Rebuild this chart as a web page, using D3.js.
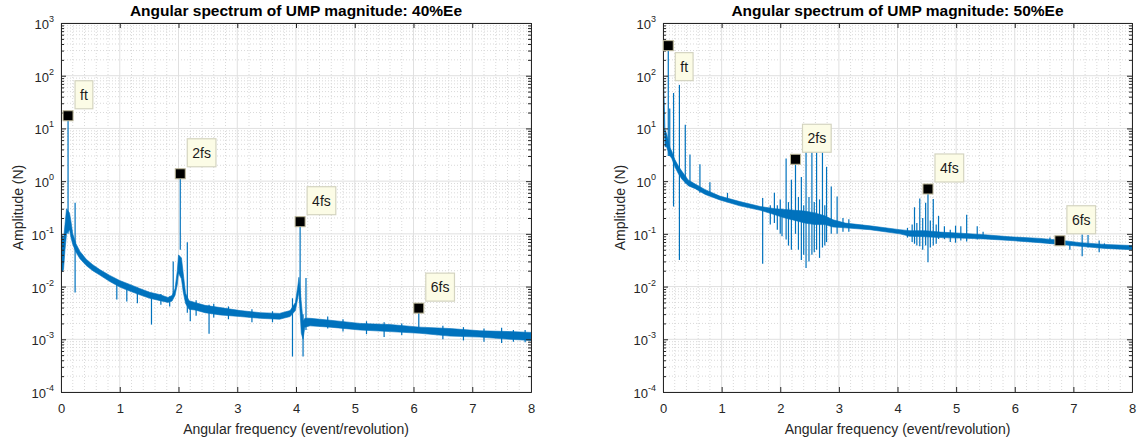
<!DOCTYPE html>
<html>
<head>
<meta charset="utf-8">
<script src="https://cdn.jsdelivr.net/npm/d3@7"></script>
<style>
  body { margin: 0; background: #fff; }
  svg text { font-family: "Liberation Sans", Arial, sans-serif; fill: #262626; }
</style>
</head>
<body>
<svg id="chart" width="1140" height="446"></svg>
<script>
// Tick values shared by both panels.
const xTickValues = [0, 1, 2, 3, 4, 5, 6, 7, 8];
const yDecades = [-4, -3, -2, -1, 0, 1, 2, 3];

// Left panel (40%Ee): noise band as [freq, low, high], spikes as [freq, low, high].
const leftTitle = 'Angular spectrum of UMP magnitude: 40%Ee';
const leftBand = [
    [0.017, 0.019, 0.095], [0.043, 0.021, 0.078], [0.068, 0.05, 0.15], [0.094, 0.1, 0.3],
    [0.145, 0.12, 0.25], [0.17, 0.085, 0.17], [0.2, 0.063, 0.1], [0.255, 0.045, 0.065],
    [0.32, 0.034, 0.047], [0.43, 0.025, 0.033], [0.54, 0.02, 0.026], [0.66, 0.0165, 0.021],
    [0.83, 0.0125, 0.0163], [1.0, 0.0098, 0.013], [1.17, 0.0082, 0.011], [1.34, 0.007, 0.0092],
    [1.51, 0.006, 0.0078], [1.69, 0.0054, 0.007], [1.82, 0.005, 0.0062], [1.89, 0.0053, 0.0068],
    [1.94, 0.0068, 0.009], [1.98, 0.011, 0.02], [2.0, 0.018, 0.04], [2.05, 0.014, 0.035],
    [2.08, 0.008, 0.018], [2.12, 0.0048, 0.0075], [2.18, 0.0037, 0.0054], [2.28, 0.0036, 0.005],
    [2.45, 0.0032, 0.0044], [2.71, 0.0029, 0.004], [3.05, 0.0027, 0.0035], [3.39, 0.0025, 0.0032],
    [3.72, 0.0024, 0.0031], [3.9, 0.0027, 0.0035], [3.99, 0.0035, 0.005], [4.03, 0.006, 0.01],
    [4.05, 0.008, 0.015], [4.09, 0.0013, 0.005], [4.12, 0.001, 0.0022], [4.15, 0.0017, 0.0025],
    [4.24, 0.0018, 0.0025], [4.58, 0.0017, 0.0023], [5.09, 0.0015, 0.002], [5.6, 0.0014, 0.0019],
    [6.11, 0.0013, 0.0017], [6.62, 0.00115, 0.0016], [7.13, 0.0011, 0.00145], [7.64, 0.001, 0.0014],
    [8.0, 0.00095, 0.00135]
];
const leftSpikes = [
    [0.0, 0.0001, 0.1], [0.12, 0.1, 17], [0.24, 0.0077, 0.39], [0.95, 0.0057, 0.013],
    [1.12, 0.0052, 0.011], [1.3, 0.0048, 0.0095], [1.54, 0.0019, 0.006], [1.7, 0.0045, 0.0072],
    [1.85, 0.0042, 0.0065], [1.91, 0.007, 0.03], [2.03, 0.05, 1.38], [2.15, 0.0032, 0.069],
    [2.2, 0.0022, 0.005], [2.3, 0.0028, 0.0055], [2.52, 0.00127, 0.0045], [2.6, 0.0026, 0.0047],
    [2.85, 0.0024, 0.0042], [3.25, 0.0021, 0.0037], [3.6, 0.0021, 0.0034], [3.94, 0.00047, 0.006],
    [4.07, 0.005, 0.17], [4.12, 0.00047, 0.003], [4.17, 0.0015, 0.0146], [4.54, 0.0016, 0.0027],
    [4.8, 0.0014, 0.0024], [5.2, 0.00125, 0.0022], [5.5, 0.0011, 0.0021], [5.8, 0.0012, 0.002],
    [6.09, 0.0016, 0.0039], [6.5, 0.001, 0.0018], [6.85, 0.00095, 0.0017], [7.2, 0.0009, 0.0016],
    [7.5, 0.00085, 0.00165], [7.7, 0.0009, 0.0015], [7.9, 0.00088, 0.0015]
];
const leftTips = [['ft', 0.12, 17.4], ['2fs', 2.03, 1.38], ['4fs', 4.07, 0.17], ['6fs', 6.09, 0.0039]];

// Right panel (50%Ee).
const rightTitle = 'Angular spectrum of UMP magnitude: 50%Ee';
const rightBand = [
    [0.005, 50, 140], [0.034, 4.5, 9.4], [0.06, 4.5, 8], [0.12, 3.0, 4.3], [0.15, 2.7, 3.7],
    [0.2, 1.9, 2.6], [0.26, 1.4, 1.95], [0.32, 1.1, 1.55], [0.43, 0.82, 1.05], [0.55, 0.72, 0.88],
    [0.72, 0.56, 0.69], [0.97, 0.44, 0.52], [1.31, 0.34, 0.41], [1.66, 0.28, 0.33], [1.91, 0.23, 0.3],
    [2.08, 0.2, 0.29], [2.25, 0.18, 0.28], [2.42, 0.16, 0.27], [2.59, 0.15, 0.25], [2.76, 0.15, 0.22],
    [2.9, 0.135, 0.185], [3.11, 0.13, 0.16], [3.53, 0.12, 0.142], [4.04, 0.1, 0.12], [4.21, 0.09, 0.115],
    [4.47, 0.088, 0.115], [4.73, 0.085, 0.108], [5.07, 0.083, 0.103], [5.49, 0.08, 0.096], [5.92, 0.075, 0.088],
    [6.43, 0.068, 0.082], [6.77, 0.063, 0.076], [7.12, 0.058, 0.068], [7.54, 0.053, 0.063], [8.0, 0.05, 0.06]
];
const rightSpikes = [
    [0.0, 0.0001, 140], [0.09, 3, 372], [0.115, 3, 24], [0.18, 0.33, 47], [0.28, 0.032, 67],
    [0.38, 0.9, 11.7], [0.46, 0.8, 3.2], [0.63, 0.6, 2.1], [0.8, 0.55, 0.95], [1.1, 0.4, 0.6],
    [1.7, 0.027, 0.48], [1.83, 0.15, 0.35], [1.9, 0.16, 0.6], [1.95, 0.12, 0.35], [2.0, 0.1, 0.45],
    [2.03, 0.09, 0.3], [2.1, 0.078, 2.7], [2.14, 0.06, 0.4], [2.19, 0.05, 1.06], [2.26, 0.1, 2.6],
    [2.31, 0.05, 0.5], [2.36, 0.032, 1.2], [2.4, 0.04, 0.35], [2.44, 0.0225, 3.65], [2.49, 0.03, 0.5],
    [2.54, 0.04, 3.65], [2.58, 0.045, 0.4], [2.62, 0.05, 3.65], [2.67, 0.035, 0.45], [2.72, 0.055, 3.65],
    [2.76, 0.06, 0.35], [2.79, 0.07, 1.87], [2.87, 0.1, 0.79], [2.97, 0.1, 0.51], [3.07, 0.11, 0.2],
    [3.17, 0.11, 0.19], [4.17, 0.085, 0.13], [4.25, 0.07, 0.15], [4.29, 0.065, 0.32], [4.33, 0.06, 0.16],
    [4.38, 0.058, 0.47], [4.43, 0.05, 0.2], [4.48, 0.06, 0.39], [4.52, 0.029, 0.71], [4.56, 0.055, 0.18],
    [4.61, 0.06, 0.46], [4.66, 0.065, 0.15], [4.7, 0.08, 0.22], [4.8, 0.08, 0.14], [4.9, 0.07, 0.12],
    [4.99, 0.068, 0.143], [5.08, 0.075, 0.14], [5.18, 0.072, 0.23], [5.36, 0.078, 0.14], [5.46, 0.08, 0.11],
    [6.6, 0.065, 0.085], [6.94, 0.05, 0.07], [7.15, 0.0375, 0.097], [7.25, 0.055, 0.095], [7.44, 0.045, 0.075],
    [7.53, 0.055, 0.066]
];
const rightTips = [['ft', 0.09, 372], ['2fs', 2.26, 2.6], ['4fs', 4.52, 0.71], ['6fs', 6.77, 0.074]];

const xLabel = 'Angular frequency (event/revolution)';
const yLabel = 'Amplitude (N)';

const lineColor = '#0072BD';
const svg = d3.select('#chart');

const drawPanel = (cfg, title, band, spikes, tips) => {
    let x = d3.scaleLinear().domain([0, 8]).range([cfg.left, cfg.right]);
    let y = d3.scaleLog().domain([1e-4, 1e3]).range([cfg.bottom, cfg.top]);
    let g = svg.append('g');

    let minorX = d3.range(0, 8.0001, 0.2).filter(v => Math.abs(v - Math.round(v)) > 0.01);
    let minorY = [];
    yDecades.slice(0, -1).forEach(d => {
        for (let k = 2; k < 10; k++) minorY.push(k * Math.pow(10, d));
    });

    // minor grid (dotted)
    g.selectAll('.mgx').data(minorX).enter().append('line')
        .attr('x1', d => x(d)).attr('x2', d => x(d))
        .attr('y1', cfg.top).attr('y2', cfg.bottom)
        .attr('stroke', '#d9d9d9').attr('stroke-dasharray', '1,2');
    g.selectAll('.mgy').data(minorY).enter().append('line')
        .attr('x1', cfg.left).attr('x2', cfg.right)
        .attr('y1', d => y(d)).attr('y2', d => y(d))
        .attr('stroke', '#d9d9d9').attr('stroke-dasharray', '1,2');

    // major grid
    g.selectAll('.gx').data(xTickValues).enter().append('line')
        .attr('x1', d => x(d)).attr('x2', d => x(d))
        .attr('y1', cfg.top).attr('y2', cfg.bottom)
        .attr('stroke', '#e0e0e0');
    g.selectAll('.gy').data(yDecades).enter().append('line')
        .attr('x1', cfg.left).attr('x2', cfg.right)
        .attr('y1', d => y(Math.pow(10, d))).attr('y2', d => y(Math.pow(10, d)))
        .attr('stroke', '#e0e0e0');

    // data
    let clipId = 'clip' + cfg.left;
    g.append('clipPath').attr('id', clipId).append('rect')
        .attr('x', cfg.left).attr('y', cfg.top)
        .attr('width', cfg.right - cfg.left).attr('height', cfg.bottom - cfg.top);
    let plot = g.append('g').attr('clip-path', 'url(#' + clipId + ')');

    let area = d3.area()
        .x(d => x(d[0]))
        .y0(d => y(d[1]))
        .y1(d => y(d[2]));
    plot.append('path').datum(band)
        .attr('d', area)
        .attr('fill', lineColor)
        .attr('stroke', lineColor)
        .attr('stroke-width', 0.6);

    plot.selectAll('.spike').data(spikes).enter().append('line')
        .attr('x1', d => x(d[0])).attr('x2', d => x(d[0]))
        .attr('y1', d => y(d[1])).attr('y2', d => y(d[2]))
        .attr('stroke', lineColor).attr('stroke-width', 1.2);

    // axes: ticks pointing inward
    let xAxis = d3.axisBottom(x).tickValues(xTickValues).tickSize(-5).tickSizeOuter(0).tickPadding(12);
    let gx = g.append('g').attr('transform', 'translate(0,' + cfg.bottom + ')').call(xAxis);
    gx.selectAll('text').attr('font-size', 13).style('fill', '#262626');
    g.append('g').attr('transform', 'translate(0,' + cfg.top + ')')
        .call(d3.axisTop(x).tickValues(xTickValues).tickSize(-5).tickSizeOuter(0).tickFormat(''));

    let majorY = yDecades.map(d => Math.pow(10, d));
    g.append('g').attr('transform', 'translate(' + cfg.left + ',0)')
        .call(d3.axisLeft(y).tickValues(majorY).tickSize(-5).tickSizeOuter(0).tickFormat(''));
    g.append('g').attr('transform', 'translate(' + cfg.left + ',0)')
        .call(d3.axisLeft(y).tickValues(minorY).tickSize(-3).tickSizeOuter(0).tickFormat(''));
    g.append('g').attr('transform', 'translate(' + cfg.right + ',0)')
        .call(d3.axisRight(y).tickValues(majorY).tickSize(-5).tickSizeOuter(0).tickFormat(''));
    g.append('g').attr('transform', 'translate(' + cfg.right + ',0)')
        .call(d3.axisRight(y).tickValues(minorY).tickSize(-3).tickSizeOuter(0).tickFormat(''));
    g.selectAll('.domain, .tick line').attr('stroke', '#262626');

    // y tick labels 10^n
    let yl = g.selectAll('.ylab').data(yDecades).enter().append('text')
        .attr('x', cfg.left - 7)
        .attr('y', d => y(Math.pow(10, d)) + 6)
        .attr('text-anchor', 'end')
        .attr('font-size', 13);
    yl.append('tspan').text('10');
    yl.append('tspan').attr('font-size', 9).attr('dy', -7).text(d => d);

    // labels
    g.append('text')
        .attr('x', (cfg.left + cfg.right) / 2).attr('y', 434)
        .attr('text-anchor', 'middle').attr('font-size', 14)
        .text(xLabel);
    g.append('text')
        .attr('transform', 'translate(' + (cfg.left - 38) + ',' + ((cfg.top + cfg.bottom) / 2) + ') rotate(-90)')
        .attr('text-anchor', 'middle').attr('font-size', 14)
        .text(yLabel);
    g.append('text')
        .attr('x', (cfg.left + cfg.right) / 2).attr('y', 16)
        .attr('text-anchor', 'middle').attr('font-size', 15.5).attr('font-weight', 'bold')
        .style('fill', '#000')
        .text(title);

    // data tips
    tips.forEach(t => {
        let mx = x(t[1]), my = y(t[2]);
        g.append('rect')
            .attr('x', mx - 5).attr('y', my - 5).attr('width', 10).attr('height', 10)
            .attr('fill', '#000').attr('stroke', '#bdb89a').attr('stroke-width', 1);
        let below = cfg.below.includes(t[0]);
        let tg = g.append('g');
        let txt = tg.append('text')
            .attr('font-size', 14).style('fill', '#1a1a1a')
            .text(t[0]);
        let w = txt.node().getComputedTextLength() + 10;
        let bx = mx + 7, by = below ? my + 7 : my - 7 - 28;
        tg.insert('rect', 'text')
            .attr('x', bx).attr('y', by).attr('width', w).attr('height', 28)
            .attr('fill', '#fcfce6').attr('stroke', '#d4d4c0').attr('stroke-width', 1.2);
        txt.attr('x', bx + 5).attr('y', by + 19);
    });
};

drawPanel({left: 61, right: 531, top: 23, bottom: 392, below: []}, leftTitle, leftBand, leftSpikes, leftTips);
drawPanel({left: 663, right: 1132, top: 23, bottom: 392, below: ['ft']}, rightTitle, rightBand, rightSpikes, rightTips);
</script>
</body>
</html>
